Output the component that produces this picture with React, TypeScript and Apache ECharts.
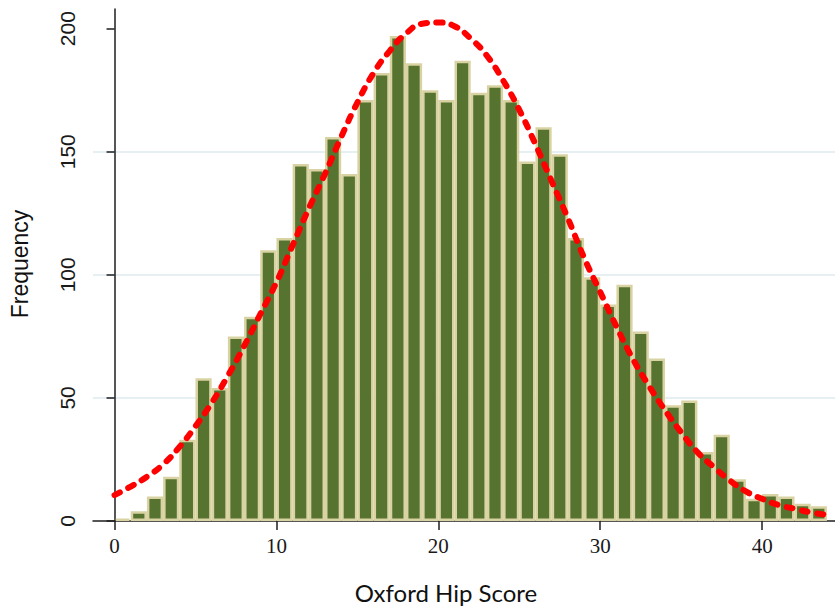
import React, { useEffect, useRef } from "react";
import * as echarts from "echarts";

// Histogram bins (lower edge, width 1) and frequencies
const binStarts = [
  0, 1, 2, 3, 4, 5, 6, 7, 8, 9, 10, 11, 12, 13, 14, 15, 16, 17, 18, 19, 20, 21,
  22, 23, 24, 25, 26, 27, 28, 29, 30, 31, 32, 33, 34, 35, 36, 37, 38, 39, 40, 41,
  42, 43,
];
const binCounts = [
  1, 4, 10, 18, 33, 58, 54, 75, 83, 110, 115, 145, 143, 156, 141, 171, 182, 197,
  186, 175, 171, 187, 174, 177, 171, 146, 160, 149, 115, 99, 88, 96, 77, 66, 47,
  49, 28, 35, 17, 9, 11, 10, 7, 6,
];
const binWidth = 1;

// Normal-curve overlay
const curveX = [
  0, 1, 2, 3, 4, 5, 6, 7, 8, 9, 10, 11, 12, 13, 14, 15, 16, 17, 18, 19, 20, 21,
  22, 23, 24, 25, 26, 27, 28, 29, 30, 31, 32, 33, 34, 35, 36, 37, 38, 39, 40, 41,
  42, 43, 44,
];
const curveY = [
  10.5, 14, 18, 23, 30, 38.5, 48, 59, 71, 84, 97, 112, 127, 141, 156, 170, 182,
  191, 198, 202, 202.5, 201, 196, 189, 179, 167, 153, 138, 123, 107, 93, 79, 66,
  55, 45, 36, 28, 22, 16.5, 12, 9, 6.5, 5, 3.5, 2.5,
];

const xTickValues = [0, 10, 20, 30, 40];
const yTickValues = [0, 50, 100, 150, 200];

export default function App() {
  const ref = useRef<HTMLDivElement>(null);

  useEffect(() => {
    const chart = echarts.init(ref.current as HTMLDivElement, null, {
      renderer: "svg",
    });
    const barData = binStarts.map((s, i) => [s, s + binWidth, binCounts[i]]);
    const curveData = curveX.map((x, i) => [x, curveY[i]]);
    const BW = 2.5;
    const axisColor = "#1e1e1e";

    chart.setOption({
      animation: false,
      backgroundColor: "#ffffff",
      grid: { left: 93, right: 0, top: 9, bottom: 89 },
      xAxis: {
        type: "value",
        min: -1.33,
        max: 44.5,
        axisLine: { show: true, lineStyle: { color: axisColor, width: 1.5 } },
        axisTick: {
          show: true,
          length: 9,
          customValues: xTickValues,
          lineStyle: { color: axisColor, width: 1.5 },
        },
        axisLabel: {
          customValues: xTickValues,
          margin: 14,
          fontFamily: "Liberation Sans Narrow",
          fontSize: 21,
          color: "#1a1a1a",
        },
        splitLine: { show: false },
      },
      yAxis: {
        type: "value",
        min: 0,
        max: 208,
        interval: 50,
        axisLine: { show: true, lineStyle: { color: axisColor, width: 1.5 } },
        axisTick: {
          show: true,
          length: 8,
          customValues: yTickValues,
          lineStyle: { color: axisColor, width: 1.5 },
        },
        axisLabel: {
          customValues: yTickValues,
          rotate: 90,
          margin: 15,
          fontFamily: "Liberation Sans",
          fontSize: 21,
          color: "#1a1a1a",
        },
        splitLine: {
          show: true,
          showMinLine: false,
          showMaxLine: false,
          lineStyle: { color: "#e6eff1", width: 2 },
        },
      },
      series: [
        {
          type: "custom",
          z: 2,
          data: barData,
          encode: { x: [0, 1], y: 2 },
          renderItem: (params: any, api: any) => {
            const x0 = api.value(0);
            const x1 = api.value(1);
            const v = api.value(2);
            const p0 = api.coord([x0, v]);
            const p1 = api.coord([x1, 0]);
            return {
              type: "rect",
              shape: {
                x: p0[0] + BW / 2,
                y: p0[1] + BW / 2,
                width: p1[0] - p0[0] - BW,
                height: Math.max(p1[1] - p0[1] - BW, 0),
              },
              style: { fill: "#56732f", stroke: "#d9d3a3", lineWidth: BW },
            };
          },
        },
        {
          type: "line",
          z: 3,
          data: curveData,
          smooth: true,
          symbol: "none",
          lineStyle: {
            color: "#ff0000",
            width: 6,
            type: [6, 9.5],
            cap: "round",
          },
        },
      ],
      graphic: [
        {
          type: "text",
          x: 20,
          y: 264,
          rotation: Math.PI / 2,
          style: {
            text: "Frequency",
            fontFamily: "Liberation Sans",
            fontSize: 23,
            fill: "#111111",
            align: "center",
            verticalAlign: "middle",
          },
        },
        {
          type: "text",
          x: 446,
          y: 592,
          style: {
            text: "Oxford Hip Score",
            fontFamily: "Lato",
            fontSize: 24,
            fill: "#111111",
            align: "center",
            verticalAlign: "middle",
          },
        },
      ],
    });
    return () => chart.dispose();
  }, []);

  return (
    <div
      ref={ref}
      style={{ position: "fixed", left: 0, top: 0, width: 835, height: 610 }}
    />
  );
}
